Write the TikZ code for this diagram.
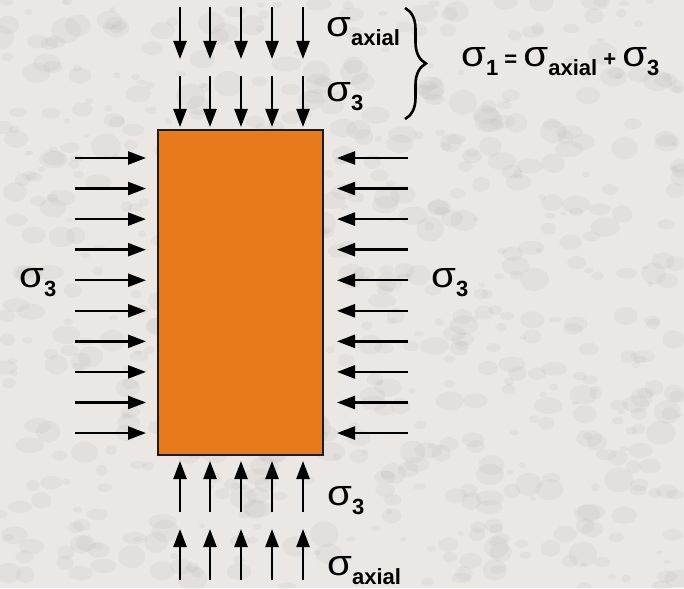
\documentclass[tikz,border=0pt]{standalone}
\usepackage{fontspec}
\setmainfont{Liberation Sans}
\usetikzlibrary{arrows.meta,decorations.pathreplacing}
\definecolor{stone}{RGB}{234,231,228}
\definecolor{stonedark}{RGB}{175,173,173}
\definecolor{specimen}{RGB}{232,122,28}
\definecolor{rim}{RGB}{40,25,15}
\newcommand{\sig}{{\normalfont\fontsize{36}{36}\selectfont\scalebox{1.12}[1]{σ}}}
\newcommand{\stress}[1]{\sig\raisebox{-9pt}{\fontsize{22}{22}\selectfont\bfseries #1}}

\begin{document}
\begin{tikzpicture}[x=1pt,y=-1pt,
  force/.style={line width=2.4pt, -{Triangle[length=18pt,width=13pt]}},
  lbl/.style={anchor=base west, inner sep=0pt},
  sample/.style={draw=rim, line width=2pt, fill=specimen, minimum width=165pt, minimum height=325pt, inner sep=0pt}
]
\fill[stone] (0,0) rectangle (684,588);
\useasboundingbox (0,0) rectangle (684,588);
% stone texture
\pgfmathsetseed{11}
\foreach \k in {1,...,700}{
  \pgfmathsetmacro{\px}{rnd*684}
  \pgfmathsetmacro{\py}{rnd*588}
  \pgfmathsetmacro{\pr}{3+rnd*12}
  \fill[stonedark, opacity=0.12] (\px,\py) ellipse ({\pr pt} and {(0.5+0.4*rnd)*\pr pt});
}

\node[sample] (block) at (240.5,292.5) {};

% lateral confining stress
\foreach \i in {0,...,9}{
  \pgfmathsetmacro{\yy}{158+30.56*\i}
  \coordinate (lt\i) at (75,\yy);
  \coordinate (lh\i) at (146,\yy);
  \coordinate (rt\i) at (408,\yy);
  \coordinate (rh\i) at (337,\yy);
  \draw[force] (lt\i) -- (lh\i);
  \draw[force] (rt\i) -- (rh\i);
}

% axial + confining on top and bottom
\foreach \x in {180,210,241,272,303}{
  \coordinate (ta\x) at (\x,7);   \coordinate (tb\x) at (\x,59);
  \coordinate (tc\x) at (\x,76);  \coordinate (td\x) at (\x,127);
  \coordinate (ba\x) at (\x,512); \coordinate (bb\x) at (\x,461);
  \coordinate (bc\x) at (\x,580); \coordinate (bd\x) at (\x,529);
  \draw[force] (ta\x) -- (tb\x);
  \draw[force] (tc\x) -- (td\x);
  \draw[force] (ba\x) -- (bb\x);
  \draw[force] (bc\x) -- (bd\x);
}

\node[lbl] (axTop) at (326,37) {\stress{axial}};
\node[lbl] (s3Top) at (326,102) {\stress{3}};
\node[lbl] (s3Left) at (19,287) {\stress{3}};
\node[lbl] (s3Right) at (431,287) {\stress{3}};
\node[lbl] (s3Bot) at (327,505) {\stress{3}};
\node[lbl] (axBot) at (327,575) {\stress{axial}};

\coordinate (brTop) at (405,8);
\coordinate (brBot) at (405,119);
\draw[line width=2.6pt, decorate, decoration={brace, amplitude=21pt}] (brTop) -- (brBot);

\node[lbl, font=\fontsize{22}{22}\selectfont\bfseries] (eqn) at (461,67)
  {\stress{1} = \stress{axial} + \stress{3}};
\end{tikzpicture}
\end{document}
